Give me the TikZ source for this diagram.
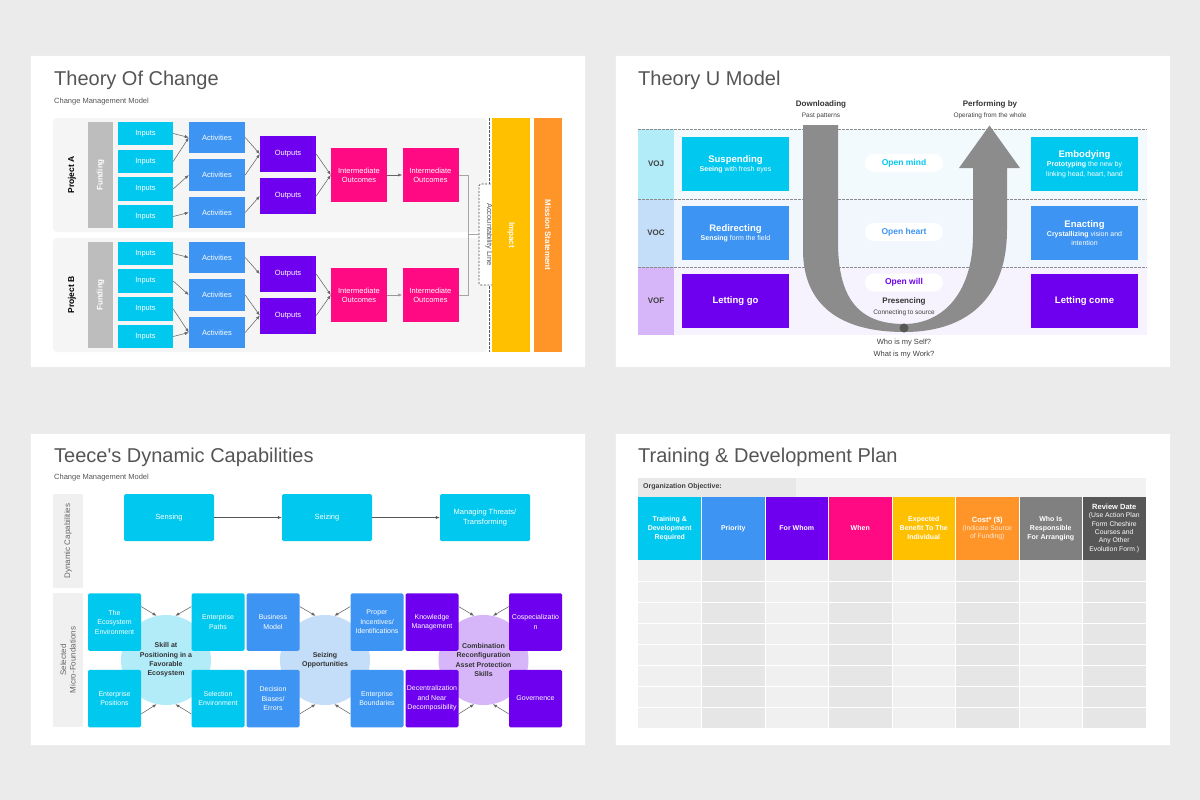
\documentclass[tikz,border=0pt]{standalone}
\usepackage{fontspec}
\setmainfont{Liberation Sans}
\usepackage{tikz}
\usetikzlibrary{arrows.meta,positioning}

\definecolor{pagebg}{HTML}{EBEBEB}
\definecolor{titlegray}{HTML}{555555}
\definecolor{cyanbox}{HTML}{00C8EE}
\definecolor{bluebox}{HTML}{3D94F2}
\definecolor{purplebox}{HTML}{6F00EF}
\definecolor{pinkbox}{HTML}{FF0A82}
\definecolor{yellowbox}{HTML}{FFC000}
\definecolor{orangebox}{HTML}{FF9529}
\definecolor{fundgray}{HTML}{BDBDBD}
\definecolor{projbg}{HTML}{F5F5F6}
\definecolor{arrowgray}{HTML}{666666}
\definecolor{ugray}{HTML}{8C8C8C}
\definecolor{lightcyan}{HTML}{B3ECF9}
\definecolor{lightblue}{HTML}{C4DDF8}
\definecolor{lightpurple}{HTML}{D6B6F9}
\definecolor{rowcyan}{HTML}{F3FAFD}
\definecolor{rowblue}{HTML}{F2F7FD}
\definecolor{rowpurple}{HTML}{F7F3FE}
\definecolor{cellA}{HTML}{F0F0F0}
\definecolor{cellB}{HTML}{E6E6E6}
\definecolor{midgray}{HTML}{808080}
\definecolor{darkgray}{HTML}{575757}

\begin{document}
\begin{tikzpicture}[x=1pt,y=-1pt]
\tikzstyle{panel}=[fill=white, draw=black!7, line width=0.6pt]
\tikzstyle{title}=[anchor=west, inner sep=0pt, text=titlegray, font=\fontsize{20}{24}\selectfont]
\tikzstyle{subtitle}=[anchor=west, inner sep=0pt, text=titlegray, font=\fontsize{7.5}{9}\selectfont]
\tikzstyle{box}=[rectangle, inner sep=1pt, align=center, text=white, font=\fontsize{7.5}{9.3}\selectfont]
\tikzstyle{inbox}=[box, fill=cyanbox, minimum width=55, minimum height=23.5]
\tikzstyle{actbox}=[box, fill=bluebox, minimum width=56, minimum height=31.5]
\tikzstyle{outbox}=[box, fill=purplebox, minimum width=56, minimum height=36]
\tikzstyle{midbox}=[box, fill=pinkbox, minimum width=56, minimum height=54]
\tikzstyle{projlab}=[rotate=90, font=\bfseries\fontsize{8.5}{10}\selectfont]
\tikzstyle{fund}=[box, rotate=90, fill=fundgray, minimum width=106, minimum height=25, font=\bfseries\fontsize{8}{9.6}\selectfont]
\tikzstyle{accbox}=[draw=black!70, line width=0.7pt, dash pattern=on 2pt off 1.5pt, fill=white, rounded corners=1.5, minimum width=20, minimum height=101, inner sep=0pt, text=darkgray, font=\fontsize{7.5}{9}\selectfont]
\tikzstyle{sidebar}=[box, rotate=-90, minimum width=234, minimum height=38, font=\bfseries\fontsize{8}{9.6}\selectfont]
\tikzstyle{arr}=[draw=arrowgray, line width=0.55pt, -{Latex[length=4pt,width=3.2pt]}]
\tikzstyle{link}=[draw=black!35, line width=0.8pt]
\tikzstyle{vlab}=[box, fill=lightcyan, minimum width=36, minimum height=68, text=black!75, font=\bfseries\fontsize{8}{9.6}\selectfont]
\tikzstyle{ubox}=[box, minimum width=107, minimum height=54, font=\fontsize{7}{9.3}\selectfont]
\tikzstyle{pill}=[fill=white, rounded corners=9, minimum width=78, minimum height=18, font=\bfseries\fontsize{8.5}{10}\selectfont]
\tikzstyle{note}=[inner sep=0pt, text=black!75, font=\fontsize{6.5}{8}\selectfont]
\tikzstyle{notehead}=[inner sep=0pt, text=black!80, font=\bfseries\fontsize{8}{9.6}\selectfont]
\tikzstyle{sidelab}=[rotate=90, fill=black!6, minimum height=30, align=center, text=black!60, font=\fontsize{8}{9.5}\selectfont]
\tikzstyle{capbox}=[box, fill=cyanbox, rounded corners=1.5, minimum width=90, minimum height=47]
\tikzstyle{hub}=[circle, minimum size=90, inner sep=0pt, align=center, text=black!80, font=\bfseries\fontsize{7}{9.3}\selectfont]
\tikzstyle{cbox}=[box, rounded corners=1.5, minimum width=53, minimum height=57.5, font=\fontsize{7}{9.5}\selectfont]
\tikzstyle{hcell}=[box, minimum width=63.5, minimum height=63.5, font=\bfseries\fontsize{7}{9}\selectfont]

% page and cards
\fill[pagebg] (0,0) rectangle (1200,800);
\useasboundingbox (0,0) rectangle (1200,800);
\foreach \px/\py in {30/55,615/55,30/433,615/433}
  \filldraw[panel] (\px,\py) rectangle ++(555,312.5);

% ---------------- Theory Of Change ----------------
\node[title] (tocTitle) at (54,80) {Theory Of Change};
\node[subtitle] (tocSub) at (54,101.5) {Change Management Model};
\fill[projbg, rounded corners=4] (53,118) rectangle (487,232);
\fill[projbg, rounded corners=4] (53,238) rectangle (487,352);
\node[projlab] (projA) at (72,175) {Project A};
\node[projlab] (projB) at (72,295) {Project B};
\node[fund] (fundA) at (100.5,175) {Funding};
\node[fund] (fundB) at (100.5,295) {Funding};

\node[inbox] (inA1) at (145.5,133.5) {Inputs};
\node[inbox] (inA2) at (145.5,161.5) {Inputs};
\node[inbox] (inA3) at (145.5,189) {Inputs};
\node[inbox] (inA4) at (145.5,216.5) {Inputs};
\node[actbox] (actA1) at (217,137.5) {Activities};
\node[actbox] (actA2) at (217,175) {Activities};
\node[actbox] (actA3) at (217,212.5) {Activities};
\node[outbox] (outA1) at (288,154) {Outputs};
\node[outbox] (outA2) at (288,196) {Outputs};
\node[midbox] (midA1) at (359,175) {Intermediate\\Outcomes};
\node[midbox] (midA2) at (430.5,175) {Intermediate\\Outcomes};

\node[inbox] (inB1) at (145.5,253.5) {Inputs};
\node[inbox] (inB2) at (145.5,281) {Inputs};
\node[inbox] (inB3) at (145.5,309) {Inputs};
\node[inbox] (inB4) at (145.5,336.5) {Inputs};
\node[actbox] (actB1) at (217,257.5) {Activities};
\node[actbox] (actB2) at (217,295) {Activities};
\node[actbox] (actB3) at (217,332.5) {Activities};
\node[outbox] (outB1) at (288,274) {Outputs};
\node[outbox] (outB2) at (288,315.5) {Outputs};
\node[midbox] (midB1) at (359,295) {Intermediate\\Outcomes};
\node[midbox] (midB2) at (430.5,295) {Intermediate\\Outcomes};

\foreach \i/\j in {1/1,2/1,3/2,4/3} \draw[arr] (inA\i.east) -- (actA\j.west);
\foreach \i/\j in {1/1,2/1,3/2} \draw[arr] (actA\i.east) -- (outA\j.west);
\foreach \i in {1,2} \draw[arr] (outA\i.east) -- (midA1.west);
\draw[arr] (midA1) -- (midA2);
\foreach \i/\j in {1/1,2/2,3/3,4/3} \draw[arr] (inB\i.east) -- (actB\j.west);
\foreach \i/\j in {1/1,2/2,3/2} \draw[arr] (actB\i.east) -- (outB\j.west);
\foreach \i in {1,2} \draw[arr] (outB\i.east) -- (midB1.west);
\draw[arr, draw=black!40] (midB1) -- (midB2);

\draw[draw=darkgray, dash pattern=on 2.5pt off 1.5pt, line width=0.6pt] (489,118) -- (489,352);
\node[accbox] (acc) at (489,234.5) {\rotatebox{-90}{Accountability Line}};
\draw[link] (midA2.east) -- ++(10,0) |- (acc.west);
\draw[link] (midB2.east) -- ++(10,0) |- (acc.west);
\node[sidebar, fill=yellowbox] (impact) at (511,235) {Impact};
\node[sidebar, fill=orangebox, minimum height=28] (mission) at (548,235) {Mission Statement};

% ---------------- Theory U Model ----------------
\node[title] (tuTitle) at (638,80) {Theory U Model};
\fill[rowcyan] (674,129) rectangle (1147,199);
\fill[rowblue] (674,199) rectangle (1147,267);
\fill[rowpurple] (674,267) rectangle (1147,335);
\node[vlab, minimum height=70] (voj) at (656,164) {VOJ};
\node[vlab, fill=lightblue] (voc) at (656,233) {VOC};
\node[vlab, fill=lightpurple] (vof) at (656,301) {VOF};
\foreach \y in {129,199,267}
  \draw[draw=black!45, dash pattern=on 2.5pt off 1.5pt, line width=0.5pt] (638,\y) -- (1147,\y);

\node[ubox, fill=cyanbox] (suspending) at (735.5,164) {{\bfseries\fontsize{9.5}{12}\selectfont Suspending}\\{\bfseries Seeing} with fresh eyes};
\node[ubox, fill=bluebox] (redirecting) at (735.5,233) {{\bfseries\fontsize{9.5}{12}\selectfont Redirecting}\\{\bfseries Sensing} form the field};
\node[ubox, fill=purplebox, font=\bfseries\fontsize{9.5}{12}\selectfont] (lettinggo) at (735.5,301) {Letting go};
\node[ubox, fill=cyanbox] (embodying) at (1084.5,164) {{\bfseries\fontsize{9.5}{12}\selectfont Embodying}\\{\bfseries Prototyping} the new by\\linking head, heart, hand};
\node[ubox, fill=bluebox] (enacting) at (1084.5,233) {{\bfseries\fontsize{9.5}{12}\selectfont Enacting}\\{\bfseries Crystallizing} vision and\\intention};
\node[ubox, fill=purplebox, font=\bfseries\fontsize{9.5}{12}\selectfont] (lettingcome) at (1084.5,301) {Letting come};

% the U
\fill[ugray] (803,125) -- (838,125) -- (838,242)
  .. controls (838,300) and (860,324) .. (904,324)
  .. controls (945,324) and (973,290) .. (973,235) -- (973,168)
  -- (959,168) -- (989.5,125.5) -- (1020,168) -- (1007,168) -- (1007,230)
  .. controls (1007,290) and (975,332) .. (904,332)
  .. controls (840,332) and (803,305) .. (803,250) -- cycle;
\node[circle, fill=darkgray, inner sep=0pt, minimum size=9] (udot) at (904,328) {};

\node[pill, text=cyanbox] (openmind) at (904,163) {Open mind};
\node[pill, text=bluebox] (openheart) at (904,232) {Open heart};
\node[pill, text=purplebox] (openwill) at (904,282.5) {Open will};
\node[notehead] (presencing) at (904,301.5) {Presencing};
\node[note] (source) at (904,312.5) {Connecting to source};
\node[notehead] (download) at (821,104) {Downloading};
\node[note] (past) at (821,116) {Past patterns};
\node[notehead] (perform) at (990,104) {Performing by};
\node[note] (whole) at (990,116) {Operating from the whole};
\node[note, font=\fontsize{7.5}{9}\selectfont] (self) at (904,343) {Who is my Self?};
\node[note, font=\fontsize{7.5}{9}\selectfont] (work) at (904,355) {What is my Work?};

% ---------------- Teece's Dynamic Capabilities ----------------
\node[title] (dcTitle) at (54,457) {Teece\textquotesingle s Dynamic Capabilities};
\node[subtitle] (dcSub) at (54,478) {Change Management Model};
\node[sidelab, minimum width=94] (dynLab) at (68,541) {Dynamic Capabilities};
\node[sidelab, minimum width=134] (microLab) at (68,660) {Selected\\Micro-Foundations};

\node[capbox] (sensing) at (169,517.5) {Sensing};
\node[capbox] (seizing) at (327,517.5) {Seizing};
\node[capbox] (managing) at (485,517.5) {Managing Threats/\\Transforming};
\draw[arr, draw=darkgray] (sensing) -- (seizing);
\draw[arr, draw=darkgray] (seizing) -- (managing);

\node[hub, fill=lightcyan] (skill) at (166,660) {Skill at\\Positioning in a\\Favorable\\Ecosystem};
\node[hub, fill=lightblue] (seizeOpp) at (325,660) {Seizing\\Opportunities};
\node[hub, fill=lightpurple] (combo) at (483.5,660) {Combination\\Reconfiguration\\Asset Protection\\Skills};

\node[cbox, fill=cyanbox] (ecoEnv) at (114.5,622) {The\\Ecosystem\\Environment};
\node[cbox, fill=cyanbox] (entPaths) at (218,622) {Enterprise\\Paths};
\node[cbox, fill=cyanbox] (entPos) at (114.5,698.5) {Enterprise\\Positions};
\node[cbox, fill=cyanbox] (selEnv) at (218,698.5) {Selection\\Environment};
\node[cbox, fill=bluebox] (busModel) at (273,622) {Business\\Model};
\node[cbox, fill=bluebox] (propInc) at (377,622) {Proper\\Incentives/\\Identifications};
\node[cbox, fill=bluebox] (decBias) at (273,698.5) {Decision\\Biases/\\Errors};
\node[cbox, fill=bluebox] (entBound) at (377,698.5) {Enterprise\\Boundaries};
\node[cbox, fill=purplebox] (knowMan) at (432,622) {Knowledge\\Management};
\node[cbox, fill=purplebox] (cospec) at (535.5,622) {Cospecializatio\\n};
\node[cbox, fill=purplebox] (decent) at (432,698.5) {Decentralization\\and Near\\Decomposibility};
\node[cbox, fill=purplebox] (govern) at (535.5,698.5) {Governence};

\foreach \tl/\tr/\bl/\br/\hb in {ecoEnv/entPaths/entPos/selEnv/skill,
    busModel/propInc/decBias/entBound/seizeOpp, knowMan/cospec/decent/govern/combo}{
  \draw[arr] (\tl.30) -- (\hb.102);
  \draw[arr] (\tr.150) -- (\hb.78);
  \draw[arr] (\bl.-30) -- (\hb.-102);
  \draw[arr] (\br.210) -- (\hb.-78);
}

% ---------------- Training & Development Plan ----------------
\node[title] (tdTitle) at (638,457) {Training \& Development Plan};
\fill[black!9] (638,478) rectangle (796,496.5);
\fill[black!5] (796,478) rectangle (1146,496.5);
\node[anchor=west, inner sep=0pt, text=black!75, font=\bfseries\fontsize{7}{8}\selectfont] (orgObj) at (643,487) {Organization Objective:};

\foreach \c in {0,2,4,6} \fill[cellA] ({638+63.5*\c},560) rectangle ++(63.5,168);
\foreach \c in {1,3,5,7} \fill[cellB] ({638+63.5*\c},560) rectangle ++(63.5,168);

\node[hcell, fill=cyanbox] (hTrain) at (669.75,528.25) {Training \&\\Development\\Required};
\node[hcell, fill=bluebox] (hPrio) at (733.25,528.25) {Priority};
\node[hcell, fill=purplebox] (hWhom) at (796.75,528.25) {For Whom};
\node[hcell, fill=pinkbox] (hWhen) at (860.25,528.25) {When};
\node[hcell, fill=yellowbox] (hBenefit) at (923.75,528.25) {Expected\\Benefit To The\\Individual};
\node[hcell, fill=orangebox, font=\fontsize{6.8}{8.3}\selectfont] (hCost) at (987.25,528.25) {{\bfseries\fontsize{7.5}{9}\selectfont Cost* (\$)}\\{\color{white!80!orangebox}(Indicate Source}\\{\color{white!80!orangebox}of Funding)}};
\node[hcell, fill=midgray] (hWho) at (1050.75,528.25) {Who Is\\Responsible\\For Arranging};
\node[hcell, fill=darkgray, font=\fontsize{6.8}{8.3}\selectfont] (hReview) at (1114.25,528.25) {{\bfseries\fontsize{7.5}{9}\selectfont Review Date}\\(Use Action Plan\\Form Cheshire\\Courses and\\Any Other\\Evolution Form )};

\foreach \r in {1,...,7} \draw[white, line width=0.8pt] (638,{560+21*\r}) -- (1146,{560+21*\r});
\foreach \c in {1,...,7} \draw[white, line width=0.8pt] ({638+63.5*\c},496.5) -- ({638+63.5*\c},728);
\end{tikzpicture}
\end{document}
